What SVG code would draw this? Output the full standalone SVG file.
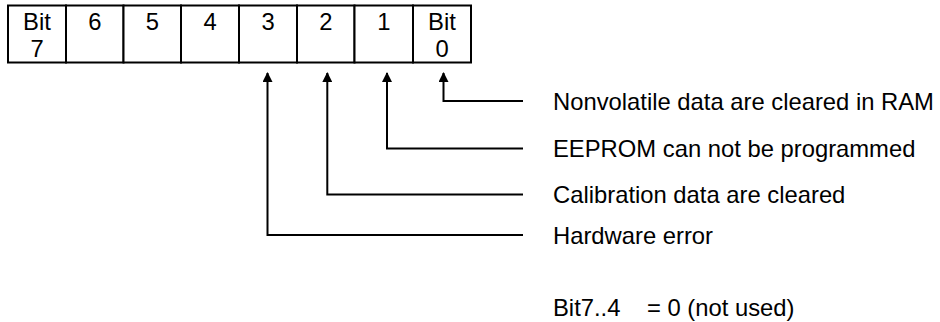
<svg xmlns="http://www.w3.org/2000/svg" width="940" height="322" viewBox="0 0 940 322">
<style>
  .t { font-family: "Liberation Sans", Arial, sans-serif; font-size: 23.8px; fill: #000; }
  .c { text-anchor: middle; }
  .box { fill: #fff; stroke: #000; stroke-width: 2; }
  .conn { fill: none; stroke: #000; stroke-width: 2; marker-end: url(#arr); }
</style>
<defs>
  <marker id="arr" viewBox="0 0 10 10" refX="9" refY="5" markerWidth="10" markerHeight="10" markerUnits="userSpaceOnUse" orient="auto">
    <path d="M0,0 L10,5 L0,10 z" fill="#000"/>
  </marker>
</defs>
<rect width="940" height="322" fill="#fff"/>
<g id="register">
  <g id="bit7"><rect class="box" x="8" y="5.5" width="58" height="57"/><text class="t c" x="37" y="29.5">Bit</text><text class="t c" x="37" y="56.5">7</text></g>
  <g id="bit6"><rect class="box" x="66" y="5.5" width="57.5" height="57"/><text class="t c" x="94.8" y="29.5">6</text></g>
  <g id="bit5"><rect class="box" x="123.5" y="5.5" width="57.5" height="57"/><text class="t c" x="152.3" y="29.5">5</text></g>
  <g id="bit4"><rect class="box" x="181" y="5.5" width="58" height="57"/><text class="t c" x="210" y="29.5">4</text></g>
  <g id="bit3"><rect class="box" x="239" y="5.5" width="58" height="57"/><text class="t c" x="268" y="29.5">3</text></g>
  <g id="bit2"><rect class="box" x="297" y="5.5" width="57.5" height="57"/><text class="t c" x="325.8" y="29.5">2</text></g>
  <g id="bit1"><rect class="box" x="354.5" y="5.5" width="58.5" height="57"/><text class="t c" x="383.8" y="29.5">1</text></g>
  <g id="bit0"><rect class="box" x="413" y="5.5" width="58" height="57"/><text class="t c" x="442" y="29.5">Bit</text><text class="t c" x="442" y="56.5">0</text></g>
</g>
<g id="connectors">
  <path class="conn" d="M523,101 H443.5 V73"/>
  <path class="conn" d="M523,148.5 H387 V73"/>
  <path class="conn" d="M523,194.5 H327.3 V73"/>
  <path class="conn" d="M523,235 H267.5 V73"/>
</g>
<g id="labels">
  <text class="t" x="553" y="109.5">Nonvolatile data are cleared in RAM</text>
  <text class="t" x="553" y="157">EEPROM can not be programmed</text>
  <text class="t" x="553" y="203">Calibration data are cleared</text>
  <text class="t" x="553" y="244">Hardware error</text>
  <text class="t" x="553" y="315.5">Bit7..4</text>
  <text class="t" x="647" y="315.5">= 0 (not used)</text>
</g>
</svg>
